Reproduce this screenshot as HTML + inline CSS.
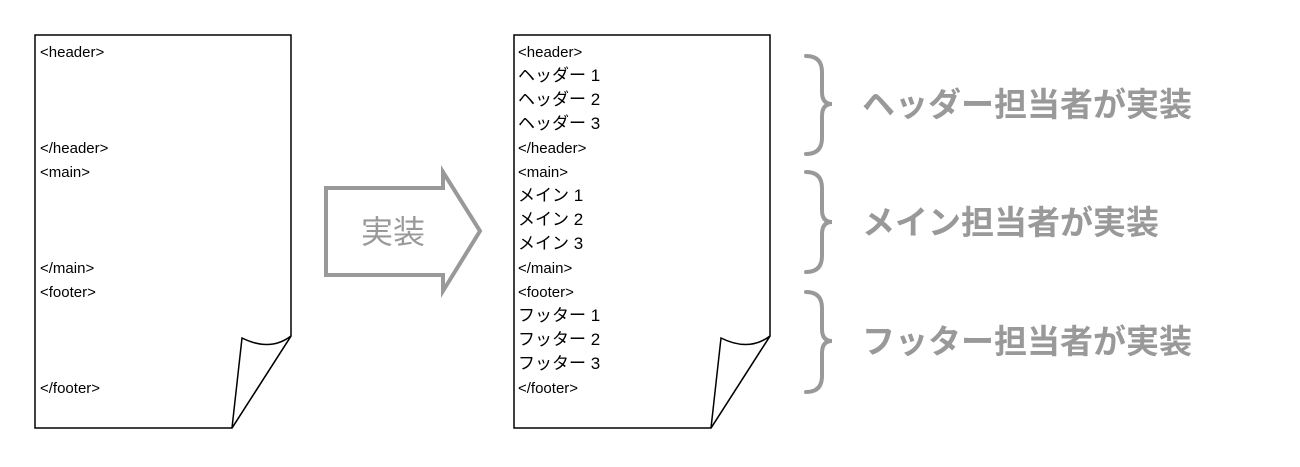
<!DOCTYPE html>
<html><head><meta charset="utf-8"><style>
body{margin:0;background:#fff;}
svg text{font-family:"Liberation Sans","Noto Sans CJK JP",sans-serif;}
</style></head><body>
<svg width="1300" height="462" viewBox="0 0 1300 462" xmlns="http://www.w3.org/2000/svg">
<g fill="#fff" stroke="#000" stroke-width="1.5">
<path d="M35 35 H291 V336 L232 428 H35 Z"/>
<path d="M291 336 Q270 352 242 338 L232 428 Z"/>
<path d="M514 35 H770 V336 L711 428 H514 Z"/>
<path d="M770 336 Q749 352 721 338 L711 428 Z"/>
</g>
<g font-size="15" fill="#000">
<text x="40" y="57">&lt;header&gt;</text>
<text x="40" y="153">&lt;/header&gt;</text>
<text x="40" y="177">&lt;main&gt;</text>
<text x="40" y="273">&lt;/main&gt;</text>
<text x="40" y="297">&lt;footer&gt;</text>
<text x="40" y="393">&lt;/footer&gt;</text>
</g>
<g font-size="17" fill="#000">
<text x="518" y="57" font-size="15">&lt;header&gt;</text>
<text x="518" y="81">ヘッダー 1</text>
<text x="518" y="105">ヘッダー 2</text>
<text x="518" y="129">ヘッダー 3</text>
<text x="518" y="153" font-size="15">&lt;/header&gt;</text>
<text x="518" y="177" font-size="15">&lt;main&gt;</text>
<text x="518" y="201">メイン 1</text>
<text x="518" y="225">メイン 2</text>
<text x="518" y="249">メイン 3</text>
<text x="518" y="273" font-size="15">&lt;/main&gt;</text>
<text x="518" y="297" font-size="15">&lt;footer&gt;</text>
<text x="518" y="321">フッター 1</text>
<text x="518" y="345">フッター 2</text>
<text x="518" y="369">フッター 3</text>
<text x="518" y="393" font-size="15">&lt;/footer&gt;</text>
</g>
<path d="M326 188 H443 V172 L480 231 L443 291 V275 H326 Z" fill="#fff" stroke="#999" stroke-width="4"/>
<text x="393" y="243" font-size="32" fill="#999" text-anchor="middle">実装</text>
<g fill="none" stroke="#999" stroke-width="4" stroke-linecap="round">
<path d="M806 56 Q822 56 822 72 V92 Q822 104 832 104 Q822 104 822 116 V138 Q822 154 806 154"/>
<path d="M806 172 Q822 172 822 188 V210 Q822 222 832 222 Q822 222 822 234 V256 Q822 272 806 272"/>
<path d="M806 292 Q822 292 822 308 V329 Q822 341 832 341 Q822 341 822 353 V376 Q822 392 806 392"/>
</g>
<g font-size="33" font-weight="bold" fill="#999">
<text x="862" y="116">ヘッダー担当者が実装</text>
<text x="862" y="234">メイン担当者が実装</text>
<text x="862" y="353">フッター担当者が実装</text>
</g>
</svg>
</body></html>
